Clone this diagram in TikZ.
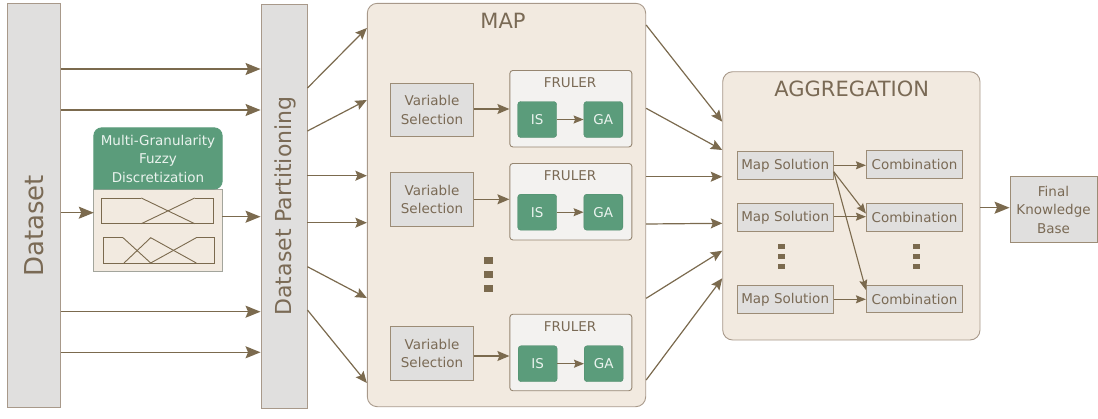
\documentclass[tikz,border=0pt]{standalone}
\usepackage{fontspec}
\setmainfont{DejaVu Sans}
\usetikzlibrary{arrows.meta}
\definecolor{txt}{HTML}{7A6A55}
\definecolor{arrc}{HTML}{7B6A4E}
\definecolor{beige}{HTML}{F2EAE0}
\definecolor{cborder}{HTML}{A8998A}
\definecolor{grayfill}{HTML}{E0DFDE}
\definecolor{grayborder}{HTML}{9C8C76}
\definecolor{grn}{HTML}{5B9C7B}
\definecolor{grnb}{HTML}{4F8C6C}
\definecolor{grntxt}{HTML}{EAF3EE}
\definecolor{frfill}{HTML}{F3F2F0}
\definecolor{frborder}{HTML}{968671}
\definecolor{mgborder}{HTML}{A3A59C}
\tikzset{
  graybox/.style={draw=grayborder, fill=grayfill, line width=0.9pt, inner sep=0pt, align=center},
  container/.style={draw=cborder, fill=beige, rounded corners=10pt, line width=0.9pt, inner sep=0pt},
  frbox/.style={draw=frborder, fill=frfill, rounded corners=3pt, line width=0.9pt, inner sep=0pt},
  gbox/.style={draw=grnb, fill=grn, text=grntxt, rounded corners=3pt, minimum width=39pt, minimum height=36pt, inner sep=0pt},
  vsbox/.style={graybox, minimum width=83pt, minimum height=53.5pt},
  frulerbox/.style={frbox, minimum width=122pt, minimum height=76.5pt},
  msbox/.style={graybox, minimum width=96.3pt, minimum height=27.8pt},
  titlefont/.style={font=\fontsize{21}{24}\selectfont},
  arrbig/.style={draw=arrc, line width=1.3pt, -{Stealth[length=15pt,width=12pt,inset=2.5pt]}},
  arrmain/.style={draw=arrc, line width=1.2pt, -{Stealth[length=11.5pt,width=10pt,inset=2pt]}},
  arrmid/.style={draw=arrc, line width=1.2pt, -{Stealth[length=12pt,width=10pt,inset=2pt]}},
  arrsmall/.style={draw=arrc, line width=1.1pt, -{Stealth[length=10pt,width=8pt,inset=1.5pt]}},
  fuzzy/.style={draw=arrc, line width=0.9pt},
  dotsq/.style={fill=arrc}
}
\begin{document}
\begin{tikzpicture}[x=1pt, y=-1pt, font=\fontsize{13.5}{18.5}\selectfont, text=txt]
\useasboundingbox (0,0) rectangle (1098,418);

% Dataset and partitioning bars
\node[graybox, draw=cborder, minimum width=53.4pt, minimum height=404pt] (ds) at (34,205.3) {};
\node[rotate=90, font=\fontsize{26}{30}\selectfont, inner sep=0pt] (dslabel) at (34,226) {Dataset};
\node[graybox, draw=cborder, minimum width=46pt, minimum height=404.4pt] (dp) at (284,206.5) {};
\node[rotate=90, font=\fontsize{22}{26}\selectfont, inner sep=0pt] (dplabel) at (285,206) {Dataset Partitioning};

% Multi-granularity fuzzy discretization
\node[minimum width=128pt, minimum height=143pt, inner sep=0pt] (mg) at (158,199.5) {};
\filldraw[fill=beige, draw=mgborder, line width=0.9pt] (mg.west |- 0,189) rectangle (mg.south east);
\filldraw[fill=grn, draw=grn, line width=0.9pt, rounded corners=8pt] (mg.west |- 0,189) -- (mg.north west) -- (mg.north east) -- (mg.east |- 0,189) [sharp corners] -- cycle;
\node[text=grntxt, align=center, inner sep=0pt] (mgtitle) at (158,158.5) {Multi-Granularity\\Fuzzy\\Discretization};
\draw[fuzzy] (141.3,198) -- (101.3,198) -- (101.3,223.7) -- (213.3,223.7) -- (213.3,198) -- (194.7,198);
\draw[fuzzy] (141.3,198) -- (194.7,223.7);
\draw[fuzzy] (141.3,223.7) -- (194.7,198);
\draw[fuzzy] (123,237.7) -- (103,237.7) -- (103,263) -- (214.7,263) -- (214.7,237.7) -- (196.3,237.7);
\draw[fuzzy] (123,237.7) -- (150.7,263);
\draw[fuzzy] (124,263) -- (150.7,237.7) -- (196.3,263);
\draw[fuzzy] (150.7,263) -- (196.3,237.7);

% Dataset -> partitioning arrows
\draw[arrbig] (ds.east |- 0,69) -- (dp.west |- 0,69);
\draw[arrbig] (ds.east |- 0,110) -- (dp.west |- 0,110);
\draw[arrbig] (ds.east |- 0,311.7) -- (dp.west |- 0,311.7);
\draw[arrbig] (ds.east |- 0,352.3) -- (dp.west |- 0,352.3);
\draw[arrbig] (ds.east |- 0,212.7) -- (mg.west |- 0,212.7);
\draw[arrbig] (mg.east |- 0,216.7) -- (dp.west |- 0,216.7);

% MAP container
\node[container, minimum width=278.4pt, minimum height=403.4pt] (map) at (506.5,205) {};
\node[titlefont, inner sep=0pt] (maptitle) at (503,21) {MAP};

% Block 1
\node[vsbox] (vs1) at (432,110) {Variable\\Selection};
\node[frulerbox] (fr1) at (570.85,108.7) {};
\node[inner sep=0pt] (frt1) at (570,82.3) {FRULER};
\node[gbox] (is1) at (537.2,119.5) {IS};
\node[gbox] (ga1) at (603.3,119.5) {GA};
\draw[arrmid] (vs1.east |- 0,109) -- (fr1.west |- 0,109);
\draw[arrsmall] (is1.east) -- (ga1.west);

% Block 2
\node[vsbox] (vs2) at (432,199.4) {Variable\\Selection};
\node[frulerbox] (fr2) at (570.85,201.7) {};
\node[inner sep=0pt] (frt2) at (570,175.5) {FRULER};
\node[gbox] (is2) at (537.2,212.2) {IS};
\node[gbox] (ga2) at (603.3,212.2) {GA};
\draw[arrmid] (vs2.east |- 0,199.3) -- (fr2.west |- 0,199.3);
\draw[arrsmall] (is2.east) -- (ga2.west);

% Block 3
\node[vsbox] (vs3) at (432,353.4) {Variable\\Selection};
\node[frulerbox] (fr3) at (570.85,352.5) {};
\node[inner sep=0pt] (frt3) at (570,326.3) {FRULER};
\node[gbox] (is3) at (537.7,363.7) {IS};
\node[gbox] (ga3) at (603.7,363.7) {GA};
\draw[arrmid] (vs3.east |- 0,356) -- (fr3.west |- 0,356);
\draw[arrsmall] (is3.east) -- (ga3.west);

% MAP dots
\fill[dotsq] (484,257.4) rectangle (492.7,264);
\fill[dotsq] (484,271) rectangle (492.7,277.6);
\fill[dotsq] (484,285) rectangle (492.7,291.6);

% Partitioning -> MAP arrows
\draw[arrmain] (dp.east |- 0,88) -- (map.west |- 0,28);
\draw[arrmain] (dp.east |- 0,131) -- (map.west |- 0,100);
\draw[arrmain] (dp.east |- 0,175.7) -- (map.west |- 0,175.7);
\draw[arrmain] (dp.east |- 0,222.7) -- (map.west |- 0,222.7);
\draw[arrmain] (dp.east |- 0,266.7) -- (map.west |- 0,298);
\draw[arrmain] (dp.east |- 0,310) -- (map.west |- 0,383);

% AGGREGATION container
\node[container, minimum width=257.3pt, minimum height=268.3pt] (agg) at (851.35,205.85) {};
\node[titlefont, inner sep=0pt] (aggtitle) at (851.7,88.7) {AGGREGATION};

\node[msbox] (ms1) at (785.15,165.5) {Map Solution};
\node[msbox] (ms2) at (785.15,217.5) {Map Solution};
\node[msbox] (ms3) at (785.15,299.5) {Map Solution};
\node[msbox] (c1) at (914.5,164.7) {Combination};
\node[msbox] (c2) at (914.5,217.2) {Combination};
\node[msbox] (c3) at (914.5,299) {Combination};

\draw[arrsmall] (ms1.east |- 0,165.3) -- (c1.west |- 0,165.3);
\draw[arrsmall] (ms1.east |- 0,171.7) -- (c2.west |- 0,213.5);
\draw[arrsmall] (ms1.east |- 0,171.7) -- (c3.west |- 0,290);
\draw[arrsmall] (ms2.east |- 0,216.7) -- (c2.west |- 0,216.7);
\draw[arrsmall] (ms3.east |- 0,299.3) -- (c3.west |- 0,299.3);

% AGG dots
\fill[dotsq] (778.3,244.2) rectangle (785.3,249.2);
\fill[dotsq] (778.3,254.3) rectangle (785.3,259.3);
\fill[dotsq] (778.3,264) rectangle (785.3,269);
\fill[dotsq] (913,244.2) rectangle (919.7,249.2);
\fill[dotsq] (913,254.3) rectangle (919.7,259.3);
\fill[dotsq] (913,264) rectangle (919.7,269);

% MAP -> AGG arrows
\draw[arrmain] (map.east |- 0,25) -- (agg.west |- 0,121.7);
\draw[arrmain] (map.east |- 0,108.3) -- (agg.west |- 0,150);
\draw[arrmain] (map.east |- 0,176.7) -- (agg.west |- 0,176.7);
\draw[arrmain] (map.east |- 0,224) -- (agg.west |- 0,223.3);
\draw[arrmain] (map.east |- 0,298.3) -- (agg.west |- 0,250.7);
\draw[arrmain] (map.east |- 0,380) -- (agg.west |- 0,278.3);

% Final knowledge base
\node[graybox, minimum width=87pt, minimum height=66pt] (fkb) at (1053.5,209.7) {Final\\Knowledge\\Base};
\draw[arrbig] (agg.east |- 0,207.7) -- (fkb.west |- 0,207.7);
\end{tikzpicture}
\end{document}
